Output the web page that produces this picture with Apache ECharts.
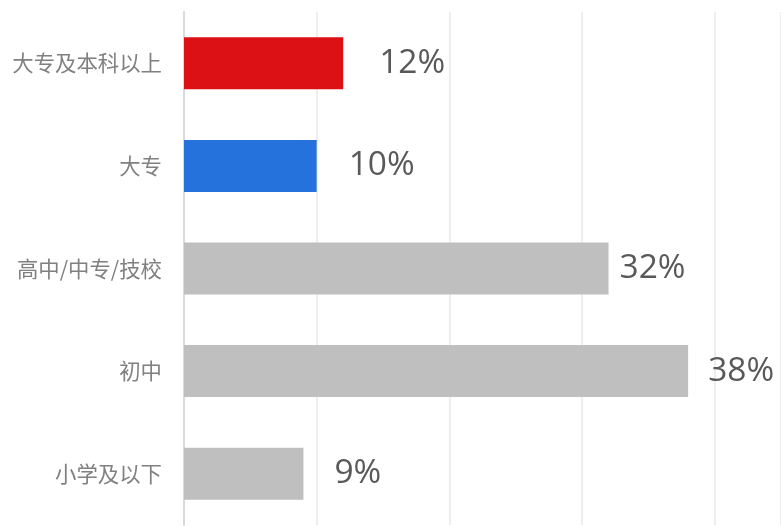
<!DOCTYPE html>
<html>
<head>
<meta charset="utf-8">
<script src="https://cdn.jsdelivr.net/npm/echarts@6/dist/echarts.min.js"></script>
<style>
html, body { margin: 0; padding: 0; background: #fff; }
#main { width: 781px; height: 526px; }
</style>
</head>
<body>
<div id="main"></div>
<script>
// 学历分布数据（从上到下）
var categories = ['大专及本科以上', '大专', '高中/中专/技校', '初中', '小学及以下'];
var values = [12, 10, 32, 38, 9];
var barColors = ['#dc1116', '#2672dc', '#bfbfbf', '#bfbfbf', '#bfbfbf'];
// 数值标签与柱子的距离
var labelGaps = [36, 32, 11, 20, 31];

var myChart = echarts.init(document.getElementById('main'));

// y轴类目默认从下往上排，这里反转一下
var cats = categories.slice().reverse();
var seriesData = values.map(function (v, i) {
    return {
        value: v,
        itemStyle: { color: barColors[i] },
        label: { distance: labelGaps[i] }
    };
}).reverse();

myChart.setOption({
    backgroundColor: '#fff',
    animation: false,
    grid: {
        left: 184,
        top: 12,
        width: 600.5,
        height: 513
    },
    xAxis: {
        type: 'value',
        min: 0,
        max: 45,
        interval: 10,
        axisLabel: { show: false },
        axisLine: { show: false },
        axisTick: { show: false },
        splitLine: { lineStyle: { color: '#e8e8e8', width: 1.5 } }
    },
    yAxis: {
        type: 'category',
        data: cats,
        axisLine: { lineStyle: { color: '#d9d9d9', width: 2 } },
        axisTick: { length: 7, lineStyle: { color: '#d9d9d9', width: 2 } },
        axisLabel: {
            margin: 22,
            fontSize: 21.4,
            color: '#808080',
            fontFamily: 'Noto Sans CJK SC'
        }
    },
    series: [{
        type: 'bar',
        barWidth: 52,
        data: seriesData,
        label: {
            show: true,
            position: 'right',
            formatter: '{c}%',
            fontSize: 33.5,
            color: '#595959',
            fontFamily: 'Open Sans'
        }
    }]
});
</script>
</body>
</html>
